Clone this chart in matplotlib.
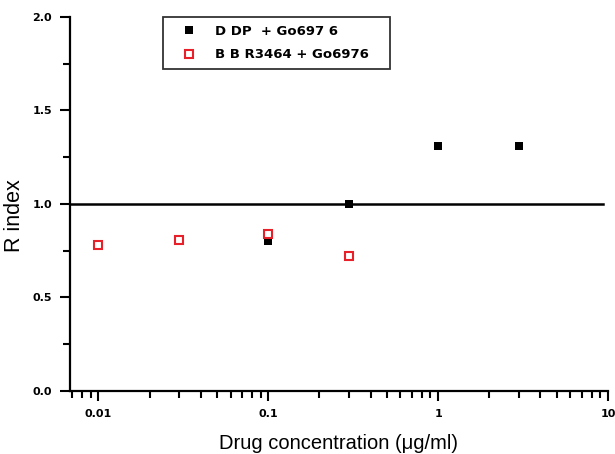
import numpy as np
import matplotlib.pyplot as plt
from matplotlib.ticker import LogLocator, FixedLocator, FuncFormatter

plt.rcParams['font.family'] = ['Liberation Sans', 'DejaVu Sans']

# DDP + Go6976 (black filled squares)
ddp_conc = [0.1, 0.3, 1.0, 3.0]
ddp_r = [0.80, 1.00, 1.31, 1.31]
# BBR3464 + Go6976 (red open squares)
bbr_conc = [0.01, 0.03, 0.1, 0.3]
bbr_r = [0.78, 0.81, 0.84, 0.72]

y_major = [0.0, 0.5, 1.0, 1.5, 2.0]
y_labels = ['0.0', '0.5', '1.0', '1.5', '2.0']
x_major = [0.01, 0.1, 1, 10]
x_labels = ['0.01', '0.1', '1', '10']

fig = plt.figure(figsize=(6.15, 4.54), dpi=100)
ax = fig.add_axes([0.1138, 0.1388, 0.8748, 0.8238])

# reference line at R = 1
ax.axhline(1.0, xmax=0.99, color='black', lw=1.8, zorder=1)
ax.plot(ddp_conc, ddp_r, 's', color='black', ms=5.5, mew=0, label='D DP  + Go697 6', zorder=3)
ax.plot(bbr_conc, bbr_r, 's', mfc='white', mec='#e8202a', ms=5.3, mew=1.5,
        label='B B R3464 + Go6976   ', zorder=3)

ax.set_xscale('log')
ax.set_xlim(0.0068, 10)
ax.set_ylim(0, 2.0)

ax.xaxis.set_major_locator(FixedLocator(x_major))
ax.xaxis.set_major_formatter(FuncFormatter(lambda v, p: x_labels[x_major.index(v)] if v in x_major else ''))
ax.xaxis.set_minor_locator(LogLocator(base=10, subs=np.arange(2, 10)))
ax.yaxis.set_major_locator(FixedLocator(y_major))
ax.yaxis.set_minor_locator(FixedLocator([0.25, 0.75, 1.25, 1.75]))
ax.set_yticklabels(y_labels)

for s in ['top', 'right']:
    ax.spines[s].set_visible(False)
for s in ['left', 'bottom']:
    ax.spines[s].set_linewidth(1.6)

ax.tick_params(which='major', direction='out', length=7, width=1.5, labelsize=8, pad=6)
ax.tick_params(which='minor', direction='out', length=5, width=1.5)
for lab in ax.get_xticklabels() + ax.get_yticklabels():
    lab.set_fontweight('bold')
    lab.set_family(['DejaVu Sans'])

ax.set_xlabel('Drug concentration (\u03bcg/ml)', fontsize=14.5)
ax.xaxis.set_label_coords(0.5, -0.114)
ax.set_ylabel('R index', fontsize=15.5)
ax.yaxis.set_label_coords(-0.084, 0.468)

leg = ax.legend(loc='upper left', bbox_to_anchor=(0.173, 1.0), frameon=True, fancybox=False,
                edgecolor='black', prop={'family': 'DejaVu Sans', 'size': 9.5, 'weight': 'bold'},
                handletextpad=0.6, borderpad=0.6, labelspacing=0.78, handlelength=2.7,
                borderaxespad=0.0)
leg.get_frame().set_linewidth(1.3)

fig.savefig('out.png', dpi=100)
